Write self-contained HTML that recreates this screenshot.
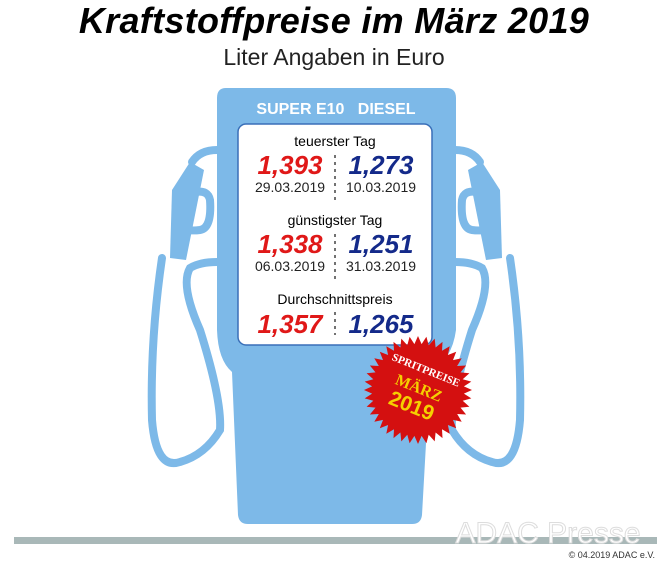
<!DOCTYPE html>
<html><head><meta charset="utf-8"><style>
body{margin:0;background:#fff;width:668px;height:565px;overflow:hidden;position:relative;font-family:"Liberation Sans","DejaVu Sans",sans-serif}
.t{position:absolute;left:0;width:668px;text-align:center}
</style></head><body>
<div class="t" style="top:0;font-size:36px;font-weight:bold;font-style:italic;letter-spacing:0.3px">Kraftstoffpreise im März 2019</div>
<div class="t" style="top:44px;font-size:23px;color:#222">Liter Angaben in Euro</div>
<svg width="668" height="565" style="position:absolute;left:0;top:0">
<g fill="none" stroke="#7db9e8" stroke-width="8" stroke-linecap="round">
<g id="h">
<path d="M217 150 Q200 150 192 162"/>
<path d="M162 258 Q150 340 152 420 Q156 470 180 462 Q205 455 220 430 Q222 400 200 330 Q180 285 190 268 Q200 262 217 262"/>
<path d="M188 195 Q182 198 183 225 Q185 232 200 230 Q212 228 210 200 Q208 190 196 192"/>
</g>
<use href="#h" transform="translate(672,0) scale(-1,1)"/>
</g>
<g fill="#7db9e8">
<path d="M190 162 L204 170 L186 260 L170 258 L172 190 Z"/>
<path d="M482 162 L468 170 L486 260 L502 258 L500 190 Z"/>
<path d="M226 88 H446 Q456 88 456 98 V330 Q452 360 430 372 L422 515 Q421 524 412 524 H248 Q239 524 238 515 L232 372 Q218 360 217 330 V98 Q217 88 226 88 Z"/>
</g>
<rect x="238" y="124" width="194" height="221" rx="8" fill="#fff" stroke="#3a6fb8" stroke-width="1.5"/>
<g stroke="#444" stroke-width="1.5" stroke-dasharray="3,4">
<line x1="335" y1="155" x2="335" y2="200"/><line x1="335" y1="234" x2="335" y2="283"/><line x1="335" y1="312" x2="335" y2="335"/>
</g>
<g font-family="Liberation Sans,sans-serif" text-anchor="middle">
<text x="336" y="114" fill="#fff" font-weight="bold" font-size="16">SUPER E10 &#160; DIESEL</text>
<text x="335" y="146" font-size="14">teuerster Tag</text>
<text x="335" y="225" font-size="14">günstigster Tag</text>
<text x="335" y="304" font-size="14">Durchschnittspreis</text>
<g font-weight="bold" font-style="italic" font-size="26">
<text x="290" y="174" fill="#e01818">1,393</text><text x="381" y="174" fill="#142a8a">1,273</text>
<text x="290" y="253" fill="#e01818">1,338</text><text x="381" y="253" fill="#142a8a">1,251</text>
<text x="290" y="333" fill="#e01818">1,357</text><text x="381" y="333" fill="#142a8a">1,265</text>
</g>
<g font-size="14" fill="#222">
<text x="290" y="192">29.03.2019</text><text x="381" y="192">10.03.2019</text>
<text x="290" y="271">06.03.2019</text><text x="381" y="271">31.03.2019</text>
</g>
</g>
<polygon id="star" fill="#d41010" points=""/>
<g transform="translate(418,390) rotate(22)">
<text y="-18" text-anchor="middle" font-family="Liberation Serif,serif" font-weight="bold" font-size="11" fill="#fff">SPRITPREISE</text>
<text y="3" text-anchor="middle" font-family="Liberation Serif,serif" font-weight="bold" font-size="16" fill="#f5d000">MÄRZ</text>
<text y="24" text-anchor="middle" font-family="Liberation Sans,sans-serif" font-weight="bold" font-size="21" fill="#f5d000">2019</text>
</g>
<rect x="14" y="537" width="643" height="7" fill="#a9b8b8"/>
<text x="548" y="543" text-anchor="middle" font-family="Liberation Sans,sans-serif" font-size="30" fill="#fff" stroke="#ddd" stroke-width="1">ADAC Presse</text>
<text x="655" y="558" text-anchor="end" font-family="Liberation Sans,sans-serif" font-size="9" fill="#333">© 04.2019  ADAC e.V.</text>
</svg>
<script>
var p=[],n=40;for(var i=0;i<2*n;i++){var r=i%2?46:54,a=i*Math.PI/n;p.push((418+r*Math.cos(a)).toFixed(1)+","+(390+r*Math.sin(a)).toFixed(1));}
document.getElementById("star").setAttribute("points",p.join(" "));
</script>
</body></html>
